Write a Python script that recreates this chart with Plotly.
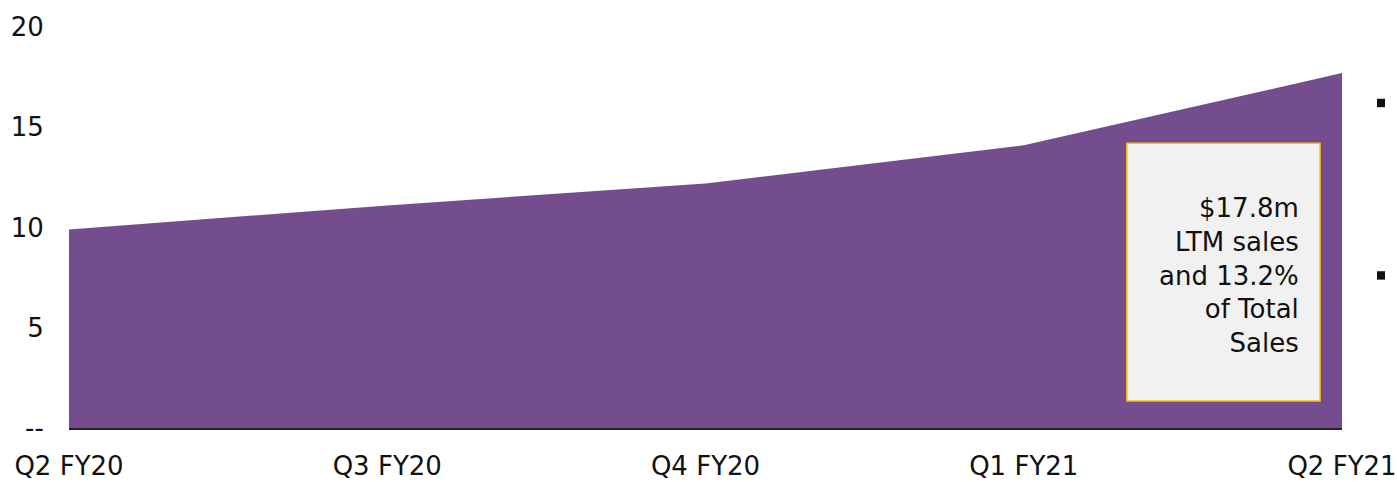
import plotly.graph_objects as go

# Quarterly LTM sales ($m)
quarters = ["Q2 FY20", "Q3 FY20", "Q4 FY20", "Q1 FY21", "Q2 FY21"]
sales = [9.9, 11.1, 12.2, 14.1, 17.7]

y_ticks = [0, 5, 10, 15, 20]
y_tick_labels = ["--", "5", "10", "15", "20"]

callout_text = "$17.8m<br>LTM sales<br>and 13.2%<br>of Total<br>Sales"

PURPLE = "#744D8E"
FONT = "DejaVu Sans"
FS = 26

fig = go.Figure()
fig.add_trace(go.Scatter(
    x=quarters, y=sales,
    mode="lines", fill="tozeroy",
    fillcolor=PURPLE, line=dict(width=0, color=PURPLE),
    hoverinfo="skip", showlegend=False,
))

# Callout box
fig.add_shape(type="rect", xref="x", yref="y",
              x0=3.324, x1=3.931, y0=1.35, y1=14.2,
              fillcolor="#F1F1F1", line=dict(color="#FFC000", width=1.5),
              layer="above")
fig.add_annotation(xref="x", yref="y", x=3.87, y=7.6,
                   text=callout_text, showarrow=False,
                   xanchor="right", yanchor="middle", align="right",
                   font=dict(family=FONT, size=FS, color="#111111"))

# Bullets to the right of the chart
for yb in [0.80, 0.37]:
    fig.add_shape(type="rect", xref="paper", yref="paper",
                  x0=1.0275, x1=1.0338, y0=yb, y1=yb + 0.021,
                  fillcolor="#111111", line=dict(width=0))

fig.update_layout(
    width=1397, height=482,
    margin=dict(l=69, r=55, t=27, b=54),
    paper_bgcolor="white", plot_bgcolor="white",
    font=dict(family=FONT, size=FS, color="#111111"),
    xaxis=dict(
        type="category", range=[0, 4], automargin=False,
        showgrid=False, zeroline=False,
        showline=True, linecolor="#222222", linewidth=1.5,
        ticks="outside", ticklen=0, ticklabelstandoff=14,
        tickfont=dict(family=FONT, size=FS, color="#111111"),
    ),
    yaxis=dict(
        range=[0, 20], tickvals=y_ticks, ticktext=y_tick_labels,
        automargin=False,
        showgrid=False, zeroline=False, showline=False,
        ticks="outside", ticklen=0, ticklabelstandoff=19,
        tickfont=dict(family=FONT, size=FS, color="#111111"),
    ),
)

fig.write_html("out.html")
